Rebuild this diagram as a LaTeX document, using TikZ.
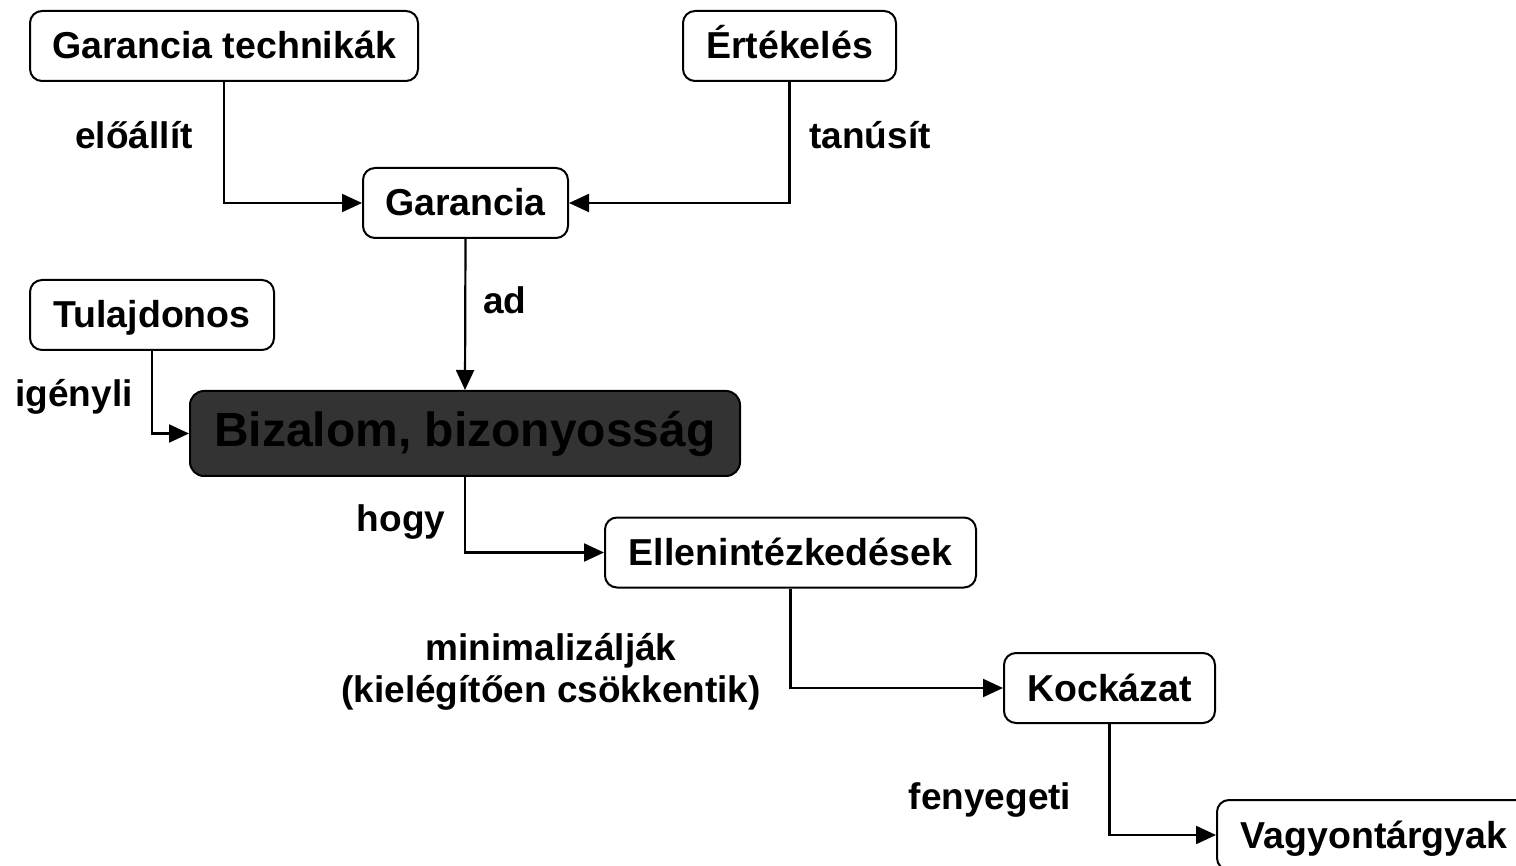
\documentclass[tikz,border=0pt]{standalone}
\usepackage{fontspec}
\setmainfont{Liberation Sans}
\usetikzlibrary{arrows.meta}
\begin{document}
\begin{tikzpicture}[x=1pt,y=-1pt,
  box/.style={draw=black, line width=2pt, rounded corners=12pt, fill=white,
    minimum height=70pt, inner xsep=22pt, text height=34pt, text depth=8pt,
    font=\fontsize{37.5}{42}\selectfont\bfseries},
  mainbox/.style={draw=black, line width=2pt, rounded corners=14pt, fill=black!80,
    minimum height=85pt, minimum width=550pt, font=\fontsize{48}{52}\selectfont\bfseries},
  lbl/.style={font=\fontsize{37}{42}\selectfont\bfseries, align=center},
  conn/.style={line width=2.2pt, -{Triangle[length=20pt,width=18pt]}}]
  \clip (0,0) rectangle (1516,866);
  \fill[white] (0,0) rectangle (1516,866);

  % concept boxes
  \node[box, minimum width=388pt] (tech) at (224,46) {Garancia technikák};
  \node[box, minimum width=213pt] (ert)  at (789.5,46) {Értékelés};
  \node[box, minimum width=205pt] (gar)  at (465.5,203) {Garancia};
  \node[box, minimum width=244pt] (tul)  at (152,315) {Tulajdonos};
  \node[mainbox] (biz) at (465,433.5) {Bizalom, bizonyosság};
  \node[box, minimum width=371pt] (ell)  at (790.5,552.5) {Ellenintézkedések};
  \node[box, minimum width=211pt] (koc)  at (1109.5,688) {Kockázat};
  \node[box, minimum width=314pt, anchor=west] (vag) at (1216,835) {Vagyontárgyak};

  % connectors
  \draw[conn] (tech.south) |- (gar.west);
  \draw[conn] (ert.south) |- (gar.east);
  \draw[conn] (gar.south) -- (biz.north);
  \draw[conn] (tul.south) |- (biz.west);
  \draw[conn] (biz.south) |- (ell.west);
  \draw[conn] (ell.south) |- (koc.west);
  \draw[conn] (koc.south) |- (vag.west);

  % connector labels
  \node[lbl] (l1) at (134,135) {előállít};
  \node[lbl] (l2) at (870,135) {tanúsít};
  \node[lbl] (l3) at (505,300) {ad};
  \node[lbl] (l4) at (74,397) {igényli};
  \node[lbl] (l5) at (401,522) {hogy};
  \node[lbl] (l6) at (551,672) {minimalizálják\\(kielégítően csökkentik)};
  \node[lbl] (l7) at (990,800) {fenyegeti};
\end{tikzpicture}
\end{document}
